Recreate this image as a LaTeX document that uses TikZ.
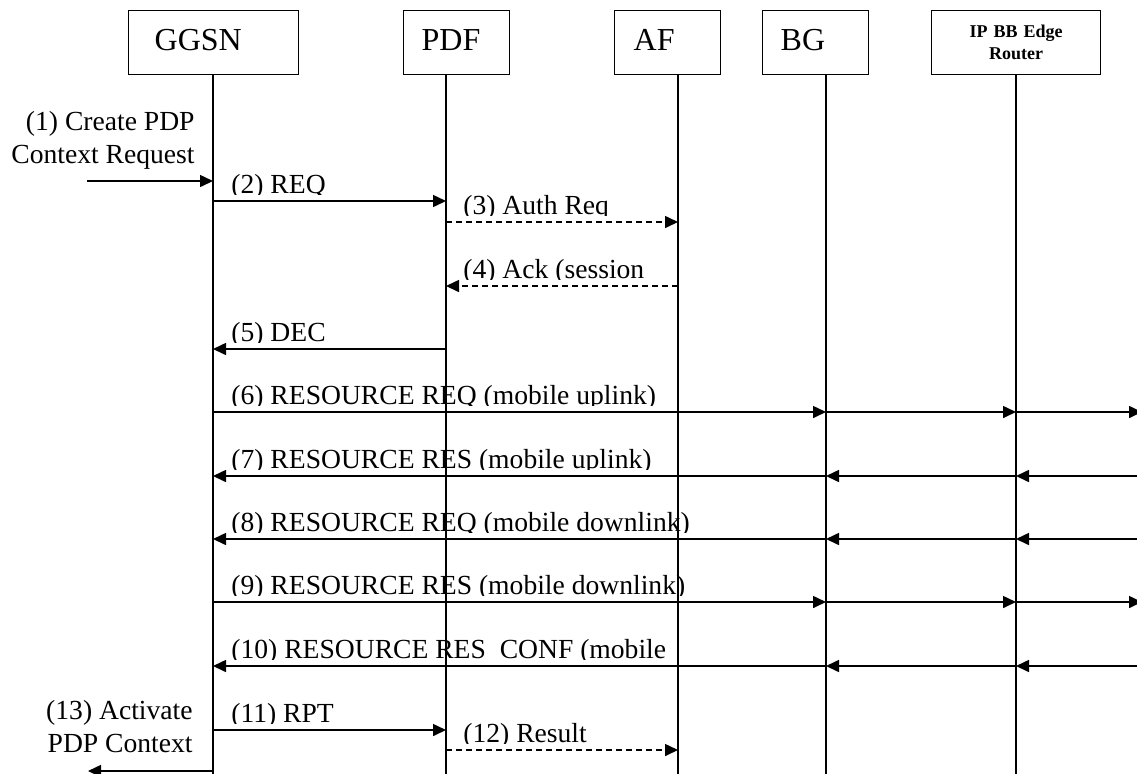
\documentclass[tikz,border=0pt]{standalone}
\usepackage{fontspec}
\setmainfont{Liberation Serif}
\usetikzlibrary{arrows.meta}

\tikzset{
  box/.style={draw, line width=0.7pt, anchor=north west, minimum height=32pt,
    inner ysep=0pt, align=left, font=\fontsize{16}{19}\selectfont},
  single/.style={text height=11pt, text depth=3pt},
  life/.style={line width=0.7pt},
  msg/.style={line width=0.8pt, -{Triangle[length=6.5pt,width=6pt]}},
  dmsg/.style={msg, dash pattern=on 3pt off 2pt},
  lbl/.style={inner sep=0pt, font=\fontsize{13.8}{16.5}\selectfont},
}

% message text, cut just under its baseline
\newcommand{\msglabel}[4]{%
  \begin{scope}
    \clip (#2-10,#3-40) rectangle (#2+800,#3+1);
    \node[lbl, anchor=base west] (#1) at (#2,#3) {#4};
  \end{scope}}

\begin{document}
\begin{tikzpicture}[x=0.5pt, y=-0.5pt]
\useasboundingbox (0,0) rectangle (1137,773);

% entities
\node[box, single, inner xsep=13pt, text width=59pt] (ggsn) at (128,10) {GGSN};
\node[box, single, inner xsep=9pt, text width=35pt] (pdf) at (403,10) {PDF};
\node[box, single, inner xsep=9.5pt, text width=34pt] (af) at (614,10) {AF};
\node[box, single, inner xsep=9pt, text width=35pt] (bg) at (762,10) {BG};
\node[box, align=center, inner xsep=0pt, text width=84.5pt,
  font=\bfseries\fontsize{9}{11}\selectfont] (ipbb) at (931,10) {IP BB Edge\\Router};

% lifelines
\foreach \n/\x in {ggsn/213, pdf/446, af/678, bg/826, ipbb/1016} {
  \coordinate (l\n) at (\x,74);
  \coordinate (e\n) at (\x,775);
  \draw[life] (l\n) -- (e\n);
}

% message rows
\foreach \n/\y in {1/181, 2/201, 3/222, 4/286, 5/349, 6/412, 7/476, 8/539,
                   9/602, 10/666, 11/730, 12/750, 13/771}
  \coordinate (r\n) at (0,\y);
\coordinate (inL) at (87,181);
\coordinate (outL) at (88,771);
\coordinate (edgeR) at (1142,0);

\draw[msg] (inL) -- (lggsn |- r1);
\draw[msg] (lggsn |- r2) -- (lpdf |- r2);
\draw[dmsg] (lpdf |- r3) -- (laf |- r3);
\draw[dmsg] (laf |- r4) -- (lpdf |- r4);
\draw[msg] (lpdf |- r5) -- (lggsn |- r5);
\foreach \r in {6,9} {
  \draw[msg] (lggsn |- r\r) -- (lbg |- r\r);
  \draw[msg] (lbg |- r\r) -- (lipbb |- r\r);
  \draw[msg] (lipbb |- r\r) -- (edgeR |- r\r);
}
\foreach \r in {7,8,10} {
  \draw[msg] (edgeR |- r\r) -- (lipbb |- r\r);
  \draw[msg] (lipbb |- r\r) -- (lbg |- r\r);
  \draw[msg] (lbg |- r\r) -- (lggsn |- r\r);
}
\draw[msg] (lggsn |- r11) -- (lpdf |- r11);
\draw[dmsg] (lpdf |- r12) -- (laf |- r12);
\draw[msg] (lggsn |- r13) -- (outL);

% texts
\node[lbl, align=right, anchor=base east] (t1) at (195,163) {(1) Create PDP\\Context Request};
\msglabel{t2}{231}{193}{(2) REQ}
\msglabel{t3}{463}{214}{(3) Auth Req}
\msglabel{t4}{463}{278}{(4) Ack (session}
\msglabel{t5}{231}{341}{(5) DEC}
\msglabel{t6}{231}{404}{(6) RESOURCE REQ (mobile uplink)}
\msglabel{t7}{231}{468}{(7) RESOURCE RES (mobile uplink)}
\msglabel{t8}{231}{531}{(8) RESOURCE REQ (mobile downlink)}
\msglabel{t9}{231}{594}{(9) RESOURCE RES (mobile downlink)}
\msglabel{t10}{231}{658}{(10) RESOURCE RES\_CONF (mobile}
\msglabel{t11}{231}{722}{(11) RPT}
\msglabel{t12}{463}{742}{(12) Result}
\node[lbl, align=right, anchor=base east] (t13) at (193,752) {(13) Activate\\PDP Context};
\end{tikzpicture}
\end{document}
